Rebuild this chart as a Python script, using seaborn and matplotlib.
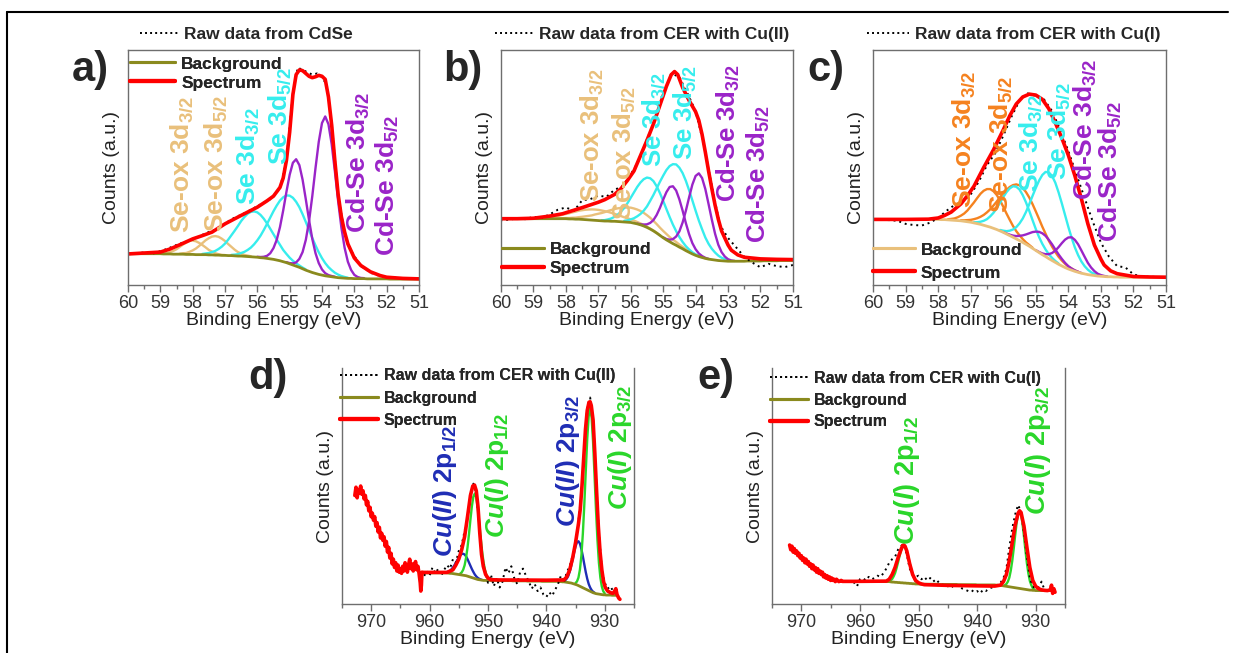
import numpy as np
import matplotlib
matplotlib.use("Agg")
import matplotlib.pyplot as plt
from matplotlib.lines import Line2D
from matplotlib.ticker import MultipleLocator
import seaborn as sns

# colours
RED = "#FF0000"
OLIVE = "#8A8A1E"
TAN = "#E9C07B"
CYAN = "#36EDED"
PURPLE = "#9A24C8"
ORANGE = "#F5821F"
BLUE = "#1F2DB5"
GREEN = "#2AD62A"

# ---------------- Se 3d panels (a-c): energy grid 60 -> 51 eV, 0.1 eV steps
SE_GRID = np.linspace(60, 51, 91)

# a) CdSe
A_BG = ([13.3] * 11
        + [13.2, 13.2, 13.2, 13.1, 13.1, 13.1, 13.1, 13.0, 13.0, 13.0]
        + [12.9, 12.9, 12.9, 12.9, 12.8, 12.8, 12.7, 12.7, 12.6, 12.6]
        + [12.5, 12.5, 12.4, 12.3, 12.3, 12.2, 12.1, 12.0, 11.9, 11.8]
        + [11.6, 11.5, 11.3, 11.1, 10.9, 10.6, 10.3, 9.9, 9.5, 9.0]
        + [8.5, 8.0, 7.5, 6.9, 6.3, 5.8, 5.3, 4.9, 4.5, 4.2]
        + [3.9, 3.7, 3.5, 3.3, 3.1, 3.0, 2.9, 2.8, 2.8, 2.7]
        + [2.7, 2.7, 2.7, 2.6, 2.6, 2.6, 2.6, 2.6, 2.6, 2.6] + [2.5] * 10)
# peak components: (centre in eV, half profile above background, 0.1 eV steps)
A_SEOX_32 = (58.0, [5.9, 5.7, 5.0, 4.1, 3.1, 2.1, 1.4, 0.8, 0.4, 0.2, 0.1])
A_SEOX_52 = (57.3, [8.1, 7.8, 7.1, 6.1, 4.9, 3.7, 2.6, 1.7, 1.1, 0.6, 0.4, 0.2])
A_SE_32 = (56.1, [19.4, 19.1, 18.2, 16.7, 14.9, 12.8, 10.7, 8.7, 6.8, 5.0, 3.7,
                  2.6, 1.8, 1.2, 0.8, 0.5, 0.3])
A_SE_52 = (55.0, [29.0, 28.6, 27.4, 25.6, 23.2, 20.5, 17.6, 14.7, 11.9, 9.4, 7.2,
                  5.4, 3.9, 2.8, 1.9, 1.3, 0.8, 0.5, 0.3])
A_CDSE_32 = (54.8, [45.5, 43.5, 37.9, 30.1, 21.8, 14.3, 8.6, 4.8, 2.4, 1.1, 0.5, 0.3, 0.2])
A_CDSE_52 = (53.9, [67.8, 64.7, 56.4, 44.9, 32.5, 21.4, 12.9, 7.1, 3.6, 1.6, 0.7, 0.3, 0.2])
A_SPEC_E = [60.0, 59.5, 59.0, 58.7, 58.4, 58.0, 57.7, 57.4, 57.0, 56.5, 56.0, 55.7,
            55.5, 55.3, 55.2, 55.1, 55.0, 54.9, 54.8, 54.7, 54.6, 54.5, 54.4, 54.3,
            54.2, 54.1, 54.0, 53.9, 53.8, 53.7, 53.6, 53.5, 53.4, 53.3, 53.2, 53.0,
            52.8, 52.5, 52.2, 52.0, 51.5, 51.0]
A_SPEC = [13.2, 13.6, 14.0, 15.3, 17.1, 19.6, 21.0, 22.5, 26.0, 29.6, 33.1, 35.8,
          37.8, 41.5, 45.5, 53.0, 65.0, 81.0, 89.5, 91.5, 91.2, 90.0, 88.8, 88.2,
          88.6, 89.2, 88.8, 87.5, 80.0, 68.0, 52.5, 38.5, 29.0, 22.5, 17.5, 11.5,
          8.3, 5.6, 4.0, 3.3, 2.8, 2.6]
A_RAW_E = [60.0, 59.6, 59.2, 58.8, 58.4, 58.0, 57.6, 57.2, 56.8, 56.4, 56.0, 55.6,
           55.3, 55.1, 54.9, 54.75, 54.6, 54.45, 54.3, 54.15, 54.0, 53.85, 53.7,
           53.5, 53.3, 53.1, 52.8, 52.4, 52.0, 51.5, 51.0]
A_RAW = [13.0, 13.8, 13.5, 15.3, 17.6, 19.3, 22.0, 24.0, 28.0, 30.5, 33.5, 36.5,
         41.0, 53.0, 81.5, 92.5, 91.5, 90.5, 89.5, 90.0, 88.5, 85.0, 69.0, 38.0,
         22.0, 14.5, 8.0, 4.5, 3.4, 2.8, 2.6]

# b) CER with Cu(II)
B_BG = ([28.2] * 21
        + [28.1, 28.1, 28.0, 28.0, 27.9, 27.8, 27.7, 27.6, 27.5, 27.4]
        + [27.3, 27.2, 27.2, 27.1, 27.1, 27.0, 26.9, 26.8, 26.7, 26.6]
        + [26.3, 26.0, 25.6, 25.1, 24.5, 23.8, 23.0, 22.1, 21.1, 20.1]
        + [19.2, 18.4, 17.6, 16.9, 16.1, 15.4, 14.6, 13.9, 13.2, 12.6]
        + [12.1, 11.7, 11.3, 11.0, 10.8, 10.6, 10.4, 10.3, 10.2, 10.1]
        + [10.1] * 5 + [10.2] * 5 + [10.3] * 5 + [10.4] * 5)
B_SEOX_32 = (57.1, [4.6, 4.55, 4.4, 4.2, 3.9, 3.6, 3.2, 2.8, 2.4, 2.0, 1.7, 1.3, 1.1,
                    0.8, 0.6, 0.5, 0.3, 0.2, 0.2, 0.1, 0.1])
B_SEOX_52 = (56.0, [6.3, 6.25, 6.1, 5.9, 5.6, 5.2, 4.8, 4.3, 3.8, 3.3, 2.9, 2.5, 2.0,
                    1.7, 1.4, 1.1, 0.85, 0.66, 0.5, 0.38, 0.28, 0.2, 0.14, 0.1])
B_SE_32 = (55.4, [21.6, 21.2, 19.9, 18.0, 15.7, 13.1, 10.5, 8.1, 6.0, 4.3, 2.9, 1.9,
                  1.2, 0.7, 0.4, 0.2])
B_SE_52 = (54.6, [34.4, 33.8, 32.2, 29.7, 26.4, 22.8, 19.0, 15.3, 12.0, 8.9, 6.5, 4.6,
                  3.2, 2.1, 1.3, 0.8, 0.5])
B_CDSE_32 = (54.7, [24.4, 23.3, 20.3, 16.2, 11.7, 7.7, 4.6, 2.6, 1.3, 0.6, 0.25, 0.1])
B_CDSE_52 = (53.9, [35.4, 33.8, 29.5, 23.4, 17.0, 11.2, 6.7, 3.7, 1.9, 0.85, 0.35, 0.15])
B_SPEC_E = [60.0, 59.5, 59.0, 58.5, 58.1, 57.5, 57.0, 56.8, 56.5, 56.3, 56.1, 55.9,
            55.7, 55.5, 55.3, 55.1, 54.9, 54.75, 54.65, 54.55, 54.4, 54.2, 54.0, 53.9,
            53.8, 53.7, 53.6, 53.5, 53.4, 53.3, 53.2, 53.0, 52.9, 52.7, 52.5, 52.0,
            51.5, 51.0]
B_SPEC = [28.2, 28.2, 28.4, 29.3, 30.3, 32.9, 35.2, 36.3, 38.5, 41.0, 44.5, 48.5,
          55.0, 61.5, 68.5, 76.5, 84.5, 89.5, 90.8, 89.5, 84.0, 78.5, 73.7, 70.0,
          64.0, 56.5, 48.5, 41.0, 34.0, 28.0, 23.0, 17.0, 14.8, 12.8, 11.8, 11.1,
          10.9, 10.8]
B_RAW_E = [60.0, 59.75, 59.5, 59.25, 59.0, 58.75, 58.5, 58.25, 58.0, 57.75, 57.5,
           57.25, 57.0, 56.75, 56.5, 56.25, 56.0, 55.75, 55.5, 55.25, 55.0, 54.75,
           54.5, 54.25, 54.0, 53.75, 53.5, 53.25, 53.0, 52.75, 52.5, 52.25, 52.0,
           51.75, 51.5, 51.25, 51.0]
B_RAW = [27.5, 27.8, 28.3, 28.0, 29.0, 28.5, 30.0, 32.0, 33.0, 31.5, 36.0, 36.5,
         38.0, 37.5, 40.5, 42.0, 47.0, 53.0, 62.0, 70.0, 80.5, 90.0, 88.5, 81.5,
         74.0, 60.0, 42.0, 25.5, 20.0, 16.0, 12.0, 9.5, 7.5, 9.0, 8.0, 7.6, 8.5]

# c) CER with Cu(I)
C_BG = ([27.9] * 21
        + [27.8, 27.8, 27.7, 27.6, 27.5, 27.4, 27.3, 27.1, 26.9, 26.7]
        + [26.4, 26.1, 25.8, 25.4, 25.0, 24.6, 24.1, 23.6, 23.0, 22.4]
        + [21.7, 21.0, 20.3, 19.6, 18.9, 18.1, 17.3, 16.5, 15.6, 14.7]
        + [13.8, 12.9, 12.1, 11.2, 10.4, 9.6, 8.8, 8.1, 7.4, 6.8]
        + [6.3, 5.8, 5.4, 5.0, 4.7, 4.4, 4.2, 4.0, 3.8, 3.7]
        + [3.6, 3.5, 3.5, 3.4, 3.4] + [3.3] * 15)
C_SEOX_32 = (56.4, [16.2, 15.8, 14.7, 13.0, 10.9, 8.7, 6.7, 4.8, 3.3, 2.2, 1.4, 0.8,
                    0.5, 0.25])
C_SEOX_52 = (55.5, [23.5, 23.2, 22.2, 20.7, 18.8, 16.6, 14.3, 11.9, 9.7, 7.6, 5.9,
                    4.4, 3.2, 2.3, 1.6, 1.0, 0.7, 0.4, 0.26])
C_SE_32 = (55.6, [22.2, 21.7, 20.1, 17.8, 15.0, 12.0, 9.1, 6.6, 4.6, 3.0, 1.9, 1.1,
                  0.6, 0.3])
C_SE_52 = (54.6, [36.7, 36.0, 33.9, 30.6, 26.6, 22.3, 17.9, 13.8, 10.2, 7.3, 5.0, 3.3,
                  2.1, 1.2, 0.7, 0.4])
C_CDSE_32 = (54.8, [9.1, 8.8, 8.0, 6.9, 5.5, 4.2, 3.0, 2.0, 1.2, 0.7, 0.4, 0.2, 0.1])
C_CDSE_52 = (53.9, [14.0, 13.4, 11.9, 9.7, 7.3, 5.0, 3.2, 1.9, 1.0, 0.5, 0.24, 0.1])
C_SPEC_E = [60.0, 59.0, 58.3, 58.0, 57.8, 57.6, 57.3, 57.1, 56.9, 56.6, 56.3, 56.0,
            55.8, 55.6, 55.4, 55.2, 55.0, 54.8, 54.6, 54.4, 54.2, 54.0, 53.8, 53.6,
            53.4, 53.2, 53.0, 52.9, 52.7, 52.5, 52.0, 51.5, 51.0]
C_SPEC = [27.9, 27.9, 28.0, 28.5, 29.6, 31.0, 34.5, 38.0, 42.0, 50.0, 57.5, 66.0,
          72.0, 77.0, 80.0, 81.2, 80.8, 79.0, 75.0, 69.0, 62.5, 55.2, 46.5, 36.7,
          26.0, 17.0, 11.0, 8.5, 6.0, 4.8, 3.6, 3.4, 3.3]
C_RAW_E = [60.0, 59.75, 59.5, 59.25, 59.0, 58.75, 58.5, 58.25, 58.0, 57.75, 57.5,
           57.25, 57.0, 56.75, 56.5, 56.25, 56.0, 55.75, 55.5, 55.25, 55.0, 54.75,
           54.5, 54.25, 54.0, 53.75, 53.5, 53.25, 53.0, 52.75, 52.5, 52.25, 52.0,
           51.75, 51.5, 51.25, 51.0]
C_RAW = [27.6, 27.7, 27.6, 27.3, 26.0, 25.5, 25.3, 26.5, 28.5, 31.5, 34.0, 35.5,
         38.5, 44.0, 51.0, 56.0, 63.5, 71.5, 78.5, 81.5, 80.5, 79.0, 74.0, 66.0,
         57.0, 47.0, 37.0, 27.0, 18.0, 12.0, 8.0, 7.5, 4.5, 3.6, 3.5, 3.4, 3.3]

# ---------------- Cu 2p panels: 0.25 eV grids
# d) CER with Cu(II)
D_GRID = np.linspace(961, 928, 133)
D_BG = ([13.2] * 17
        + [13.1, 13.0, 13.0, 12.9, 12.8, 12.7, 12.6, 12.5, 12.4, 12.3, 12.2, 12.1]
        + [12.0, 11.8, 11.6, 11.4, 11.2, 11.0, 10.8, 10.6, 10.4, 10.3, 10.2, 10.1]
        + [10.0] * 10 + [9.9] * 10 + [9.8] * 10 + [9.7] * 10 + [9.6] * 12
        + [9.5, 9.5, 9.4, 9.4, 9.3, 9.2, 9.1, 9.0, 8.9, 8.7, 8.5, 8.3]
        + [8.1, 7.8, 7.5, 7.2, 6.9, 6.6, 6.3, 6.0, 5.7, 5.4, 5.1, 4.8]
        + [4.6, 4.4, 4.3, 4.2, 4.1, 4.0, 3.9, 3.9, 3.8, 3.8, 3.8, 3.8, 3.7, 3.7, 3.7, 3.7])
D_CU2_12 = (954.25, [9.1, 8.9, 8.2, 7.2, 6.0, 4.8, 3.6, 2.6, 1.7, 1.1, 0.7, 0.4, 0.2, 0.1])
D_CU1_12 = (952.25, [36.0, 34.5, 30.3, 24.4, 18.0, 12.2, 7.6, 4.3, 2.3, 1.1, 0.5])
D_CU2_32 = (934.5, [18.8, 18.1, 16.1, 13.3, 10.2, 7.2, 4.7, 2.8, 1.6, 0.8, 0.4, 0.2])
D_CU1_32 = (932.5, [77.6, 73.9, 63.9, 50.0, 35.5, 22.9, 13.3, 7.1, 3.4, 1.5, 0.6])
D_SPEC_E = [972.8, 972.6, 972.4, 972.2, 972.0, 971.8, 971.6, 971.4, 971.2, 971.0,
            970.8, 970.6, 970.4, 970.2, 970.0, 969.8, 969.6, 969.4, 969.2, 969.0,
            968.8, 968.6, 968.4, 968.2, 968.0, 967.8, 967.6, 967.4, 967.2, 967.0,
            966.8, 966.6, 966.4, 966.2, 966.0, 965.8, 965.6, 965.4, 965.2, 965.0,
            964.8, 964.6, 964.4, 964.2, 964.0, 963.8, 963.6, 963.4, 963.2, 963.0,
            962.8, 962.6, 962.4, 962.2, 962.0, 961.8, 961.6, 961.5, 961.4, 961.3,
            961.0, 957.0, 956.0, 955.5, 955.0, 954.5, 954.0, 953.5, 953.0, 952.6,
            952.3, 952.0, 951.7, 951.4, 951.1, 950.8, 950.4, 950.0, 949.5, 948.0,
            940.0, 937.0, 936.5, 936.0, 935.5, 935.0, 934.5, 934.2, 933.9, 933.6,
            933.3, 933.0, 932.7, 932.5, 932.3, 932.0, 931.7, 931.4, 931.1, 930.8,
            930.5, 930.2, 929.9, 929.5, 929.0, 928.6, 928.3, 928.1, 927.9, 927.6,
            927.4]
D_SPEC = [46.0, 49.5, 45.0, 48.5, 47.0, 50.0, 46.5, 48.0, 44.5, 46.0,
          42.0, 43.5, 39.5, 41.0, 37.0, 38.5, 35.5, 37.0, 33.0, 34.5,
          30.5, 32.5, 28.0, 30.0, 27.0, 28.5, 24.5, 26.5, 22.0, 24.0,
          19.5, 21.5, 17.0, 19.0, 15.5, 17.5, 14.0, 16.5, 13.5, 15.0,
          13.0, 16.0, 14.0, 17.5, 15.5, 13.5, 16.5, 19.0, 15.0, 17.0,
          14.0, 16.5, 18.0, 14.5, 16.0, 13.0, 9.0, 5.5, 8.0, 13.5,
          13.4, 13.4, 14.5, 16.5, 19.0, 23.0, 28.5, 37.0, 46.0, 50.0,
          50.4, 48.0, 41.0, 30.0, 21.0, 16.0, 12.5, 11.0, 10.3, 10.2,
          10.1, 10.2, 11.5, 14.5, 19.5, 26.0, 34.0, 40.0, 50.0, 62.0,
          74.0, 82.0, 85.5, 85.7, 84.0, 78.0, 64.0, 48.0, 33.0, 22.0,
          14.5, 9.5, 7.0, 5.5, 4.8, 4.5, 5.5, 6.5, 4.0, 2.5,
          2.0]
D_RAW_E = [961.0, 960.5, 960.0, 959.5, 959.0, 958.5, 958.0, 957.5, 957.0, 956.5,
           956.0, 955.5, 955.0, 954.5, 954.0, 953.5, 953.0, 952.5, 952.0, 951.5,
           951.0, 950.5, 950.0, 949.5, 949.0, 948.5, 948.0, 947.5, 947.0, 946.5,
           946.0, 945.5, 945.0, 944.5, 944.0, 943.5, 943.0, 942.5, 942.0, 941.5,
           941.0, 940.5, 940.0, 939.5, 939.0, 938.5, 938.0, 937.5, 937.0, 936.5,
           936.0, 935.5, 935.0, 934.5, 934.0, 933.5, 933.0, 932.5, 932.0, 931.5,
           931.0, 930.5, 930.0, 929.5, 929.0, 928.5, 928.0]
D_RAW = [11.5, 14.0, 12.0, 15.5, 13.0, 15.0, 12.0, 14.5, 16.5, 15.0,
         19.0, 17.5, 22.5, 25.0, 31.0, 36.5, 46.5, 51.0, 47.0, 33.0,
         20.0, 14.0, 9.0, 12.5, 7.5, 11.0, 7.0, 9.5, 15.5, 13.0,
         16.0, 11.0, 8.5, 13.5, 15.0, 12.0, 9.5, 6.5, 8.5, 5.5,
         7.0, 4.0, 3.0, 5.0, 3.5, 6.0, 8.5, 12.0, 9.0, 13.5,
         16.0, 20.5, 27.0, 35.0, 47.0, 66.0, 83.0, 87.5, 79.0, 54.0,
         30.0, 15.0, 9.0, 6.5, 7.5, 5.0, 4.5]

# e) CER with Cu(I)
E_GRID = np.linspace(963, 927, 145)
E_BG = ([9.5] * 33
        + [9.4, 9.3, 9.3, 9.2, 9.2, 9.1, 9.1, 9.0, 9.0, 8.9, 8.9, 8.8, 8.8, 8.7, 8.7,
           8.6, 8.6, 8.5, 8.5, 8.5]
        + [8.4] * 13 + [8.3] * 13 + [8.2] * 13 + [8.1] * 13
        + [8.0, 8.0, 7.9, 7.9, 7.8, 7.7, 7.6, 7.5, 7.4, 7.3, 7.2, 7.1, 7.0, 6.9,
           6.8, 6.7, 6.6, 6.5, 6.4, 6.3, 6.2, 6.1, 6.0, 5.9, 5.9, 5.8, 5.8, 5.7]
        + [5.7] * 12)
E_CU1_12 = (952.5, [15.7, 15.1, 13.5, 11.1, 8.5, 6.0, 3.9, 2.4, 1.3, 0.7, 0.3, 0.15])
E_CU1_32 = (932.75, [32.9, 31.5, 27.7, 22.3, 16.5, 11.2, 7.0, 3.9, 2.1, 1.0, 0.4])
E_SPEC_E = [972.0, 971.8, 971.6, 971.4, 971.2, 971.0, 970.8, 970.6, 970.4, 970.2,
            970.0, 969.8, 969.6, 969.4, 969.2, 969.0, 968.8, 968.6, 968.4, 968.2,
            968.0, 967.8, 967.6, 967.4, 967.2, 967.0, 966.8, 966.6, 966.4, 966.2,
            966.0, 965.8, 965.6, 965.4, 965.2, 965.0, 964.8, 964.6, 964.4, 964.2,
            964.0, 963.6, 963.2, 963.0, 962.0, 961.0, 955.5, 955.0, 954.5, 954.0,
            953.5, 953.0, 952.7, 952.5, 952.3, 952.0, 951.5, 951.0, 950.5, 950.0,
            949.5, 949.0, 945.0, 940.0, 937.0, 936.0, 935.5, 935.0, 934.5, 934.0,
            933.5, 933.0, 932.75, 932.5, 932.0, 931.5, 931.0, 930.5, 930.0, 929.5,
            929.0, 928.5, 928.0, 927.5, 927.3, 927.1, 926.9, 926.7]
E_SPEC = [25.0, 23.0, 24.5, 22.0, 23.5, 21.5, 22.5, 20.5, 21.5, 19.5,
          20.5, 18.5, 19.5, 17.5, 19.0, 17.0, 18.0, 16.0, 17.0, 15.0,
          16.5, 14.5, 15.5, 13.5, 15.0, 13.0, 14.0, 12.5, 13.5, 11.5,
          12.5, 11.0, 12.0, 10.5, 11.5, 10.0, 11.0, 10.0, 10.5, 9.5,
          10.5, 9.5, 10.0, 9.6, 9.6, 9.6, 9.7, 10.5, 12.5, 15.5,
          19.5, 23.0, 24.8, 25.0, 24.5, 22.5, 17.0, 12.5, 10.0, 9.0,
          8.5, 8.2, 7.9, 7.7, 7.6, 8.0, 9.5, 12.5, 18.5, 26.0,
          33.5, 38.5, 39.5, 38.8, 33.0, 24.0, 15.5, 10.0, 7.5, 6.5,
          6.0, 5.8, 5.7, 6.0, 8.0, 4.5, 6.5, 5.0]
E_RAW_E = [961.0, 960.5, 960.0, 959.5, 959.0, 958.5, 958.0, 957.5, 957.0, 956.5,
           956.0, 955.5, 955.0, 954.5, 954.0, 953.5, 953.0, 952.5, 952.0, 951.5,
           951.0, 950.5, 950.0, 949.5, 949.0, 948.5, 948.0, 947.5, 947.0, 946.5,
           946.0, 945.5, 945.0, 944.5, 944.0, 943.5, 943.0, 942.5, 942.0, 941.5,
           941.0, 940.5, 940.0, 939.5, 939.0, 938.5, 938.0, 937.5, 937.0, 936.5,
           936.0, 935.5, 935.0, 934.5, 934.0, 933.5, 933.0, 932.5, 932.0, 931.5,
           931.0, 930.5, 930.0, 929.5, 929.0, 928.5, 928.0]
E_RAW = [9.0, 7.5, 10.5, 11.0, 10.0, 11.5, 10.5, 11.0, 12.0, 11.5,
         13.0, 15.0, 17.5, 19.0, 20.0, 23.0, 24.5, 25.5, 21.0, 15.0,
         12.5, 11.5, 12.0, 10.5, 11.5, 10.0, 11.0, 9.5, 10.5, 9.0,
         8.0, 8.5, 7.5, 8.0, 7.0, 8.0, 7.5, 6.5, 6.0, 5.5,
         6.0, 5.0, 5.5, 4.5, 6.0, 5.5, 6.5, 7.0, 7.5, 8.0,
         9.0, 11.0, 15.0, 24.0, 32.0, 38.0, 42.0, 39.0, 30.0, 20.0,
         11.0, 7.5, 6.5, 7.0, 9.5, 6.0, 5.5]

RAW_DASH = (0, (1, 2))


def place(grid, centre, half):
    # mirror a half profile about its centre and find where it sits on the grid
    step = abs(grid[1] - grid[0])
    k = int(round(abs(grid[0] - centre) / step))
    prof = np.array(half[::-1] + half[1:], dtype=float)
    lo = k - (len(half) - 1)
    return slice(lo, lo + len(prof)), prof


def draw(ax, grid, bg, peaks, spec_e, spec, raw_e, raw, bg_color):
    bg = np.asarray(bg, dtype=float)
    for (centre, half), color in peaks:
        sl, prof = place(grid, centre, half)
        sns.lineplot(x=grid[sl], y=bg[sl] + prof, color=color, lw=1.7, ax=ax)
    sns.lineplot(x=grid, y=bg, color=bg_color, lw=2.0, ax=ax)
    sns.lineplot(x=raw_e, y=raw, color="black", lw=1.4, linestyle=RAW_DASH, ax=ax)
    sns.lineplot(x=spec_e, y=spec, color=RED, lw=2.6, ax=ax)


def style(ax, xlim, major, minor, top=True):
    ax.set_xlim(*xlim)
    ax.set_ylim(0, 100)
    ax.set_yticks([])
    ax.xaxis.set_major_locator(MultipleLocator(major))
    ax.xaxis.set_minor_locator(MultipleLocator(minor))
    ax.tick_params(axis="x", which="major", length=5, width=1, color="#6E6E6E",
                   labelsize=13, labelcolor="#333333", pad=2)
    ax.tick_params(axis="x", which="minor", length=3, width=1, color="#6E6E6E")
    for s in ax.spines.values():
        s.set_visible(True)
        s.set_color("#6E6E6E")
        s.set_linewidth(1.0)
    ax.spines["top"].set_visible(top)
    ax.set_xlabel("Binding Energy (eV)", fontsize=14, labelpad=0, color="#222222")
    ax.set_ylabel("Counts (a.u.)", fontsize=14, labelpad=6, color="#222222")


def legend(ax, handles, labels, anchor, spacing, size, hlen=2.5):
    leg = ax.legend(handles, labels, loc="center left", bbox_to_anchor=anchor,
                    frameon=False, borderpad=0, borderaxespad=0, handlelength=hlen,
                    handletextpad=0.35, labelspacing=spacing,
                    prop={"weight": "bold", "size": size})
    ax.add_artist(leg)


def tags(ax, items, size):
    for x, y, text, color in items:
        ax.text(x, y, text, rotation=90, ha="center", va="bottom", color=color,
                fontsize=size, fontweight="bold")


sns.set_theme(style="ticks")
plt.rcParams["font.family"] = ["Liberation Sans", "DejaVu Sans"]
plt.rcParams["mathtext.fontset"] = "custom"
plt.rcParams["mathtext.rm"] = "Liberation Sans:bold"
plt.rcParams["mathtext.bf"] = "Liberation Sans:bold"
plt.rcParams["mathtext.it"] = "Liberation Sans:italic:bold"

fig = plt.figure(figsize=(12.44, 6.53), dpi=100)
ax_a = fig.add_axes([0.1029, 0.5636, 0.2339, 0.3599])
ax_b = fig.add_axes([0.4027, 0.5636, 0.2347, 0.3599])
ax_c = fig.add_axes([0.7018, 0.5636, 0.2355, 0.3599])
ax_d = fig.add_axes([0.2749, 0.0750, 0.2347, 0.3614])
ax_e = fig.add_axes([0.6206, 0.0750, 0.2355, 0.3614])

draw(ax_a, SE_GRID, A_BG,
     [(A_SEOX_32, TAN), (A_SEOX_52, TAN), (A_SE_32, CYAN), (A_SE_52, CYAN),
      (A_CDSE_32, PURPLE), (A_CDSE_52, PURPLE)],
     A_SPEC_E, A_SPEC, A_RAW_E, A_RAW, OLIVE)
draw(ax_b, SE_GRID, B_BG,
     [(B_SEOX_32, TAN), (B_SEOX_52, TAN), (B_SE_32, CYAN), (B_SE_52, CYAN),
      (B_CDSE_32, PURPLE), (B_CDSE_52, PURPLE)],
     B_SPEC_E, B_SPEC, B_RAW_E, B_RAW, OLIVE)
draw(ax_c, SE_GRID, C_BG,
     [(C_SEOX_32, ORANGE), (C_SEOX_52, ORANGE), (C_SE_32, CYAN), (C_SE_52, CYAN),
      (C_CDSE_32, PURPLE), (C_CDSE_52, PURPLE)],
     C_SPEC_E, C_SPEC, C_RAW_E, C_RAW, TAN)
draw(ax_d, D_GRID, D_BG,
     [(D_CU2_12, BLUE), (D_CU1_12, GREEN), (D_CU2_32, BLUE), (D_CU1_32, GREEN)],
     D_SPEC_E, D_SPEC, D_RAW_E, D_RAW, OLIVE)
draw(ax_e, E_GRID, E_BG,
     [(E_CU1_12, GREEN), (E_CU1_32, GREEN)],
     E_SPEC_E, E_SPEC, E_RAW_E, E_RAW, OLIVE)

for ax in (ax_a, ax_b, ax_c):
    style(ax, (60, 51), 1, 0.5)
for ax in (ax_d, ax_e):
    style(ax, (975, 925), 10, 5, top=False)

raw_h = Line2D([], [], color="black", lw=1.4, linestyle=(0, (1, 1.6)))
spec_h = Line2D([], [], color=RED, lw=3)


def bg_h(c):
    return Line2D([], [], color=c, lw=2.2)


legend(ax_a, [raw_h], ["Raw data from CdSe"], (0.041, 1.064), 0.2, 12.5, 2.2)
legend(ax_a, [bg_h(OLIVE), spec_h], ["Background", "Spectrum"], (0.007, 0.90), 0.22, 12.5, 2.6)
legend(ax_b, [raw_h], ["Raw data from CER with Cu(II)"], (-0.02, 1.064), 0.2, 12.5, 2.2)
legend(ax_b, [bg_h(OLIVE), spec_h], ["Background", "Spectrum"], (0.003, 0.11), 0.22, 12.5, 2.4)
legend(ax_c, [raw_h], ["Raw data from CER with Cu(I)"], (-0.02, 1.064), 0.2, 12.5, 2.4)
legend(ax_c, [bg_h(TAN), spec_h], ["Background", "Spectrum"], (0.0, 0.10), 0.45, 12.5, 2.4)
legend(ax_d, [raw_h, bg_h(OLIVE), spec_h],
       ["Raw data from CER with Cu(II)", "Background", "Spectrum"],
       (-0.007, 0.873), 0.45, 11.5, 2.4)
legend(ax_e, [raw_h, bg_h(OLIVE), spec_h],
       ["Raw data from CER with Cu(I)", "Background", "Spectrum"],
       (-0.007, 0.864), 0.42, 11.5, 2.4)

s32 = r"$_{\mathrm{3/2}}$"
s52 = r"$_{\mathrm{5/2}}$"
s12 = r"$_{\mathrm{1/2}}$"
tags(ax_a, [(58.35, 22.0, "Se-ox 3d" + s32, TAN), (57.28, 22.5, "Se-ox 3d" + s52, TAN),
            (56.3, 34.0, "Se 3d" + s32, CYAN), (55.3, 51.0, "Se 3d" + s52, CYAN),
            (52.9, 22.0, "Cd-Se 3d" + s32, PURPLE), (52.0, 12.5, "Cd-Se 3d" + s52, PURPLE)], 19)
tags(ax_b, [(57.2, 35.3, "Se-ox 3d" + s32, TAN), (56.2, 27.7, "Se-ox 3d" + s52, TAN),
            (55.3, 50.2, "Se 3d" + s32, CYAN), (54.33, 53.2, "Se 3d" + s52, CYAN),
            (53.0, 35.3, "Cd-Se 3d" + s32, PURPLE), (52.07, 17.9, "Cd-Se 3d" + s52, PURPLE)], 18.5)
tags(ax_c, [(57.22, 32.8, "Se-ox 3d" + s32, ORANGE), (56.07, 30.6, "Se-ox 3d" + s52, ORANGE),
            (55.15, 39.6, "Se 3d" + s32, CYAN), (54.28, 44.7, "Se 3d" + s52, CYAN),
            (53.5, 36.2, "Cd-Se 3d" + s32, PURPLE), (52.74, 18.3, "Cd-Se 3d" + s52, PURPLE)], 19)
tags(ax_d, [(957.4, 19.9, r"$\mathit{Cu(II)}$ 2p" + s12, BLUE),
            (948.5, 28.0, r"$\mathit{Cu(I)}$ 2p" + s12, GREEN),
            (936.3, 32.6, r"$\mathit{Cu(II)}$ 2p" + s32, BLUE),
            (927.4, 39.8, r"$\mathit{Cu(I)}$ 2p" + s32, GREEN)], 19)
tags(ax_e, [(952.0, 25.0, r"$\mathit{Cu(I)}$ 2p" + s12, GREEN),
            (929.6, 37.7, r"$\mathit{Cu(I)}$ 2p" + s32, GREEN)], 19.5)

for letter, px, py in [("a)", 72, 70), ("b)", 443, 70), ("c)", 807, 70),
                       ("d)", 248, 378), ("e)", 697, 378)]:
    fig.text(px / 1244, 1 - py / 653, letter, ha="left", va="center", fontsize=30,
             fontweight="bold", family=["Liberation Sans Narrow", "Liberation Sans"])

# outer frame of the figure
fig.add_artist(Line2D([7 / 1244, 7 / 1244], [0, 1 - 12 / 653], transform=fig.transFigure,
                      color="black", lw=1.5))
fig.add_artist(Line2D([7 / 1244, 1228 / 1244], [1 - 12 / 653, 1 - 12 / 653],
                      transform=fig.transFigure, color="black", lw=1.5))

fig.savefig("out.png", dpi=100)
